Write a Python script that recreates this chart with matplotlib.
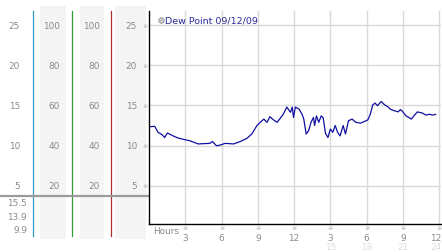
"""Dew point for 09/12/09 with the side scale panel, drawn as a small weather widget."""
import matplotlib
matplotlib.use("Agg")
import matplotlib.pyplot as plt
from matplotlib import transforms
from matplotlib.patches import Rectangle

# --- data ---
hours = [0.0, 0.05, 0.47, 0.75, 1.08, 1.3, 1.52, 2.0, 2.4, 2.96, 3.37, 4.06,
         5.03, 5.25, 5.58, 5.9, 6.3, 7.0, 7.55, 8.1, 8.5, 8.93, 9.2, 9.5,
         9.76, 10.0, 10.3, 10.6, 10.9, 11.1, 11.4, 11.7, 11.85, 11.95, 12.1,
         12.4, 12.66, 12.8, 13.0, 13.2, 13.4, 13.6, 13.7, 13.85, 14.04, 14.24,
         14.4, 14.6, 14.8, 15.0, 15.2, 15.4, 15.6, 15.8, 16.06, 16.25, 16.5,
         16.8, 17.1, 17.5, 17.8, 18.1, 18.3, 18.5, 18.7, 18.9, 19.2, 19.5,
         19.7, 20.0, 20.3, 20.6, 20.8, 21.0, 21.25, 21.5, 21.7, 21.96, 22.2,
         22.6, 22.9, 23.2, 23.5, 23.7]
dew_point = [12.2, 12.35, 12.4, 11.65, 11.35, 11.0, 11.56, 11.2, 10.94, 10.73,
             10.6, 10.2, 10.27, 10.5, 9.97, 10.06, 10.27, 10.2, 10.5, 10.9,
             11.44, 12.5, 12.9, 13.3, 12.9, 13.6, 13.2, 12.9, 13.5, 13.9, 14.8,
             14.15, 14.8, 13.5, 14.8, 14.56, 13.9, 13.3, 11.44, 11.85, 12.9,
             13.5, 12.5, 13.7, 12.9, 13.7, 13.5, 11.5, 11.0, 12.06, 11.65, 12.5,
             11.65, 11.2, 12.5, 11.44, 13.1, 13.3, 12.9, 12.8, 13.0, 13.2, 13.9,
             15.06, 15.3, 14.97, 15.5, 15.06, 14.9, 14.5, 14.35, 14.2, 14.5,
             14.2, 13.7, 13.5, 13.3, 13.8, 14.2, 14.06, 13.8, 13.9, 13.8, 13.9]
series_label = "Dew Point 09/12/09"

temp_ticks = [5, 10, 15, 20, 25]
humidity_labels = [20, 40, 60, 80, 100]
hour_ticks = [3, 6, 9, 12, 15, 18, 21, 24]
stats = ["15.5", "13.9", "9.9"]

W, H = 442, 253
GREY_TXT = "#8a8a8a"
fig = plt.figure(figsize=(W / 100, H / 100), dpi=100)

# gray column backgrounds (behind everything)
bg = fig.add_axes([0, 0, 1, 1], zorder=-1)
bg.set_xlim(0, W)
bg.set_ylim(H, 0)
bg.axis("off")
for x0, x1 in [(40, 66), (80, 104), (115, 146)]:
    bg.add_patch(Rectangle((x0, 7), x1 - x0, 233, facecolor="#f4f4f4",
                           edgecolor="none"))

ax = fig.add_axes([149 / W, 28 / H, 292 / W, 213 / H])
ax.patch.set_alpha(0)
ax.set_xlim(0, 24.15)
ax.set_ylim(0.2, 26.8)
ax.plot(hours, dew_point, color="#1010a0", lw=0.9)
ax.set_xticks(hour_ticks)
ax.set_yticks(temp_ticks)
ax.grid(True, color="#d9d9d9", lw=1.0)
ax.set_axisbelow(True)
ax.tick_params(length=0, labelbottom=False, labelleft=False)
for s in ("top", "right"):
    ax.spines[s].set_visible(False)
for s in ("left", "bottom"):
    ax.spines[s].set_color("black")
    ax.spines[s].set_linewidth(1.0)

# x in figure pixels, y in data units (left panel) / x in data, y in pixels (bottom)
px = transforms.Affine2D().scale(1 / W, 1 / H) + fig.transFigure
left_tr = transforms.blended_transform_factory(px, ax.transData)
bot_tr = transforms.blended_transform_factory(ax.transData, px)

# coloured dividers and the gray separator
for x, c in [(33, "#3399cc"), (72, "#33a033"), (111, "#b03030")]:
    bg.plot([x, x], [12, 237], color=c, lw=0.9)
bg.plot([0, 149], [197, 197], color="#9a9a9a", lw=1.6)

kw = dict(fontsize=6.4, color=GREY_TXT, va="center", clip_on=False)
for t, h in zip(temp_ticks, humidity_labels):
    ax.text(20, t, str(t), transform=left_tr, ha="right", **kw)
    ax.text(60, t, str(h), transform=left_tr, ha="right", **kw)
    ax.text(100, t, str(h), transform=left_tr, ha="right", **kw)
    ax.text(137, t, str(t), transform=left_tr, ha="right", **kw)
    ax.text(145.5, t, "※", transform=left_tr, ha="center", fontsize=4.5,
            color="#aaaaaa", va="center", clip_on=False)
for i, s in enumerate(stats):
    fig.text(27 / W, (H - 204 - 13.5 * i) / H, s, ha="right", va="center",
             fontsize=6.4, color=GREY_TXT)

# bottom hour labels
fig.text(153 / W, (H - 232) / H, "Hours", ha="left", va="center",
         fontsize=6.4, color=GREY_TXT)
last_tr = transforms.offset_copy(bot_tr, fig=fig, x=2.5, units="dots")
for h in hour_ticks:
    tr, ha = (last_tr, "right") if h == hour_ticks[-1] else (bot_tr, "center")
    ax.text(h, H - 229, "※", transform=bot_tr, ha="center", va="center",
            fontsize=4.5, color="#aaaaaa", clip_on=False)
    ax.text(h, H - 239, str((h - 1) % 12 + 1), transform=tr, ha=ha,
            va="center", fontsize=6.4, color=GREY_TXT, clip_on=False)
    if h > 12:
        ax.text(h, H - 248, str(h), transform=tr, ha=ha, va="center",
                fontsize=6.4, color="#dddddd", clip_on=False)

# legend entry
bg.plot([160.7], [21], marker="o", ms=4, mfc="#c8c8c8", mec="#9a9a9a",
        mew=0.6, ls="none")
fig.text(165 / W, (H - 21) / H, series_label, ha="left", va="center",
         fontsize=6.8, color="#2a2a9a")

fig.savefig("out.png", dpi=100)
